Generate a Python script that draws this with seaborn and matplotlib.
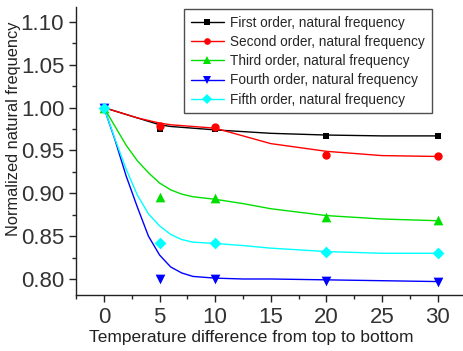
import numpy as np
import pandas as pd
import matplotlib
matplotlib.use("Agg")
import matplotlib.pyplot as plt
from matplotlib.lines import Line2D
from matplotlib.ticker import MultipleLocator
import seaborn as sns

# measured points
temp = [0, 5, 10, 20, 30]
first = [1.000, 0.975, 0.975, 0.967, 0.967]
second = [1.000, 0.979, 0.977, 0.945, 0.944]
third = [1.000, 0.896, 0.895, 0.872, 0.869]
fourth = [1.000, 0.800, 0.800, 0.798, 0.797]
fifth = [1.000, 0.842, 0.842, 0.831, 0.830]

# fitted curves
fit_x = [0, 1, 2, 3, 4, 5, 6, 7, 8, 10, 12.5, 15, 20, 25, 30]
first_fit = [1.000, 0.996, 0.992, 0.988, 0.984, 0.980, 0.978, 0.977, 0.976, 0.974, 0.972, 0.970, 0.968, 0.967, 0.967]
second_fit = [1.000, 0.996, 0.992, 0.988, 0.985, 0.982, 0.980, 0.979, 0.978, 0.976, 0.967, 0.958, 0.949, 0.944, 0.943]
third_fit = [1.000, 0.978, 0.956, 0.938, 0.924, 0.912, 0.904, 0.899, 0.896, 0.893, 0.888, 0.882, 0.874, 0.870, 0.868]
fourth_fit = [1.000, 0.962, 0.920, 0.884, 0.850, 0.828, 0.814, 0.807, 0.803, 0.801, 0.800, 0.800, 0.799, 0.798, 0.797]
fifth_fit = [1.000, 0.963, 0.928, 0.898, 0.876, 0.862, 0.852, 0.846, 0.843, 0.8415, 0.839, 0.836, 0.832, 0.830, 0.830]

labels = ["First order, natural frequency", "Second order, natural frequency",
          "Third order, natural frequency", "Fourth order, natural frequency",
          "Fifth order, natural frequency"]
colors = ["#000000", "#ff0000", "#00e000", "#0000ff", "#00ffff"]
markers = ["s", "o", "^", "v", "D"]
msizes = [5, 6, 7, 7, 6]

sns.set_style("white")
plt.rcParams['font.family'] = ['Liberation Sans', 'DejaVu Sans']

fig = plt.figure(figsize=(4.63, 3.51), dpi=100)
ax = fig.add_axes([0.164, 0.1595, 0.834, 0.8205])

points = [first, second, third, fourth, fifth]
fits = [first_fit, second_fit, third_fit, fourth_fit, fifth_fit]
handles = []
for lab, col, mk, ms, pts, fit in zip(labels, colors, markers, msizes, points, fits):
    sns.lineplot(x=fit_x, y=fit, color=col, lw=1.0, ax=ax)
    sns.scatterplot(x=temp, y=pts, color=col, marker=mk, s=ms**2, edgecolor=col, linewidth=0, ax=ax, zorder=3)
    handles.append(Line2D([], [], color=col, lw=1.0, marker=mk, markersize=ms * 0.8, markeredgewidth=0))

ax.set_xlim(-2.52, 32.2)
ax.set_ylim(0.7813, 1.1174)
ax.xaxis.set_major_locator(MultipleLocator(5))
ax.xaxis.set_minor_locator(MultipleLocator(2.5))
ax.yaxis.set_major_locator(MultipleLocator(0.05))
ax.yaxis.set_minor_locator(MultipleLocator(0.025))
ax.yaxis.set_major_formatter(matplotlib.ticker.FormatStrFormatter('%.2f'))
ax.tick_params(which='major', direction='out', length=5, width=1, labelsize=16, colors='#222222')
ax.tick_params(axis='both', labelcolor='#333333')
ax.tick_params(which='minor', direction='out', length=3, width=1)
ax.tick_params(left=True, bottom=True, which='both')
for s in ['top', 'right']:
    ax.spines[s].set_visible(False)
for s in ['left', 'bottom']:
    ax.spines[s].set_color('#222222')
    ax.spines[s].set_linewidth(1.0)

ax.set_xlabel("Temperature difference from top to bottom", fontsize=12.5, color='#222222')
ax.set_ylabel("Normalized natural frequency", fontsize=11.8, color='#222222')
ax.xaxis.set_label_coords(0.453, -0.122)
ax.yaxis.set_label_coords(-0.142, 0.576)

leg = ax.legend(handles, labels, loc='upper right', bbox_to_anchor=(0.922, 0.993),
                fontsize=9.8, frameon=True, fancybox=False, handlelength=2.4,
                borderpad=0.5, labelspacing=0.38, handletextpad=0.5, borderaxespad=0)
leg.get_frame().set_edgecolor('#222222')
leg.get_frame().set_linewidth(1.0)

fig.savefig("out.png", dpi=100)
